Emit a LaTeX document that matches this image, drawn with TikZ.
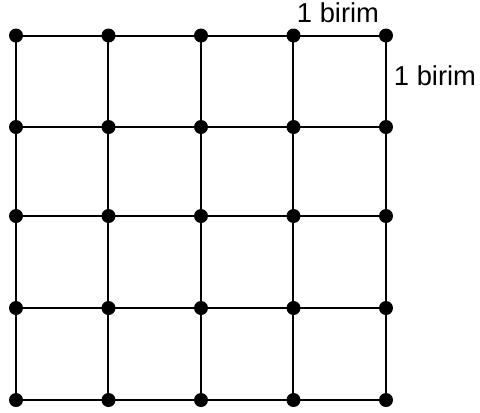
\documentclass[tikz,border=0pt]{standalone}
\usepackage{fontspec}
\setmainfont{Liberation Sans}
\begin{document}
\begin{tikzpicture}[x=0.75pt,y=-0.75pt,
  dot/.style={circle,fill=black,inner sep=0pt,minimum size=10.5pt},
  gridline/.style={line width=1.5pt,black},
  lbl/.style={font=\fontsize{20.5}{23}\selectfont,text=black,inner sep=0pt}]
\useasboundingbox (0,0) rectangle (480,412);
\foreach \i/\x in {0/16,1/108.5,2/201,3/293.5,4/386}{
  \foreach \j/\y in {0/35.5,1/127,2/216,3/308,4/400}{
    \node[dot] (d\i\j) at (\x,\y) {};
  }
}
\foreach \i in {0,...,4}{
  \draw[gridline] (d\i0.center) -- (d\i4.center);
  \draw[gridline] (d0\i.center) -- (d4\i.center);
}
\node[lbl] (top) at (338,13) {1 birim};
\node[lbl] (right) at (435,76) {1 birim};
\end{tikzpicture}
\end{document}
